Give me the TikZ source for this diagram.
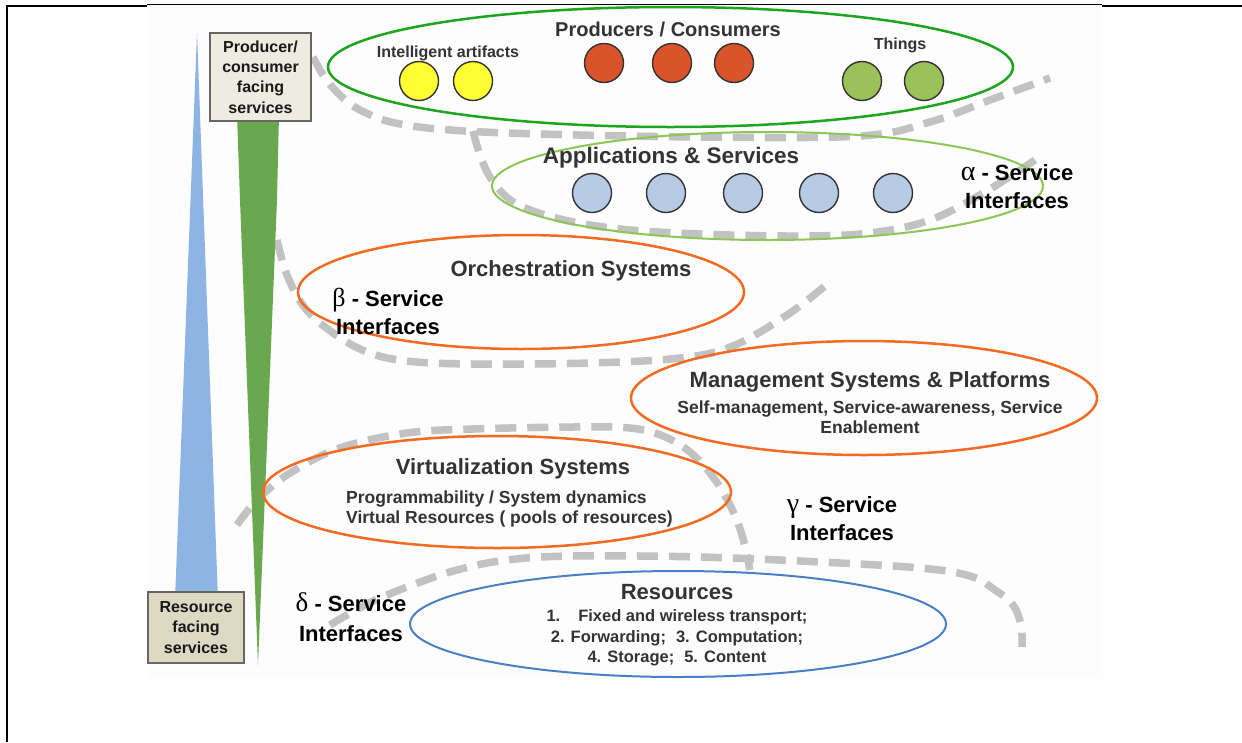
\documentclass[tikz,border=0pt]{standalone}
\usepackage{fontspec}
\setmainfont{Liberation Sans}
\newfontfamily\grk{Liberation Serif}
\usetikzlibrary{shapes.geometric}
\definecolor{dashgray}{HTML}{C2C2C2}
\definecolor{prodgreen}{HTML}{1DA51D}
\definecolor{appgreen}{HTML}{8DC653}
\definecolor{orangeline}{HTML}{F26B21}
\definecolor{resblue}{HTML}{4A7EC6}
\definecolor{dotyellow}{HTML}{FFFF33}
\definecolor{dotred}{HTML}{D9532B}
\definecolor{dotgreen}{HTML}{9BC258}
\definecolor{dotblue}{HTML}{B7CCE4}
\definecolor{wedgeblue}{HTML}{8EB4E3}
\definecolor{wedgegreen}{HTML}{6AA84F}
\definecolor{boxlight}{HTML}{EEECE1}
\definecolor{boxdark}{HTML}{DDD9C3}
\definecolor{txt}{HTML}{333333}
\begin{document}
\begin{tikzpicture}[x=1pt,y=-1pt,
  dashline/.style={draw=dashgray, line width=7.5pt, dash pattern=on 21pt off 11pt},
  oval/.style={ellipse, draw=#1, inner sep=0pt, line width=2.5pt},
  dot/.style={circle, draw=black!80, fill=#1, line width=1.4pt, minimum size=39pt, inner sep=0pt},
  title/.style={font=\fontsize{22}{28}\selectfont\bfseries, text=txt, inner sep=0pt, align=center},
  subtext/.style={font=\fontsize{17.5}{20.5}\selectfont\bfseries, text=txt, inner sep=0pt},
  small/.style={font=\fontsize{16}{20}\selectfont\bfseries, text=txt, inner sep=0pt},
  greeklbl/.style={font=\fontsize{22}{28}\selectfont\bfseries, text=black, inner sep=0pt, align=center},
  sidebox/.style={draw=black!60, line width=1.5pt, inner sep=0pt, align=center,
    font=\fontsize{16}{20.3}\selectfont\bfseries, text=black!90}
]
\useasboundingbox (0,0) rectangle (1242,742);
% image background
\fill[white!99.4!black] (148,5) rectangle (1102,678);
% frame
\draw[line width=2pt] (7,742) -- (7,6) -- (147,6);
\draw[line width=1pt] (147,4.5) -- (1102,4.5);
\draw[line width=2pt] (1102,5.5) -- (1242,5.5);

% dashed boundaries
\draw[dashline] plot[smooth, tension=0.6] coordinates {(313,57) (325,78) (342,97) (362,111) (395,123) (450,130) (540,134) (700,137) (860,136) (930,122) (990,100) (1050,78)};
\draw[dashline] plot[smooth, tension=0.6] coordinates {(473,131) (480,155) (492,180) (515,203) (560,219) (620,229) (700,234) (800,236) (870,233) (930,220) (985,192) (1035,160)};
\draw[dashline] plot[smooth, tension=0.6] coordinates {(277,240) (287,275) (305,308) (333,333) (367,352) (407,361) (473,364) (590,363) (680,358) (733,346) (790,313) (832,280)};
\draw[dashline] plot[smooth, tension=0.6] coordinates {(237,525) (257,500) (290,473) (340,448) (407,433) (473,429) (573,427) (630,428) (663,436) (690,452) (713,477) (730,505) (742,535) (750,570)};
\draw[dashline] plot[smooth, tension=0.6] coordinates {(330,625) (365,605) (407,587) (457,570) (507,560) (573,556) (700,557) (820,562) (920,568) (970,576) (995,590) (1013,605) (1021,625) (1022,647)};

% wedges
\fill[wedgeblue] (197,33) -- (218,600) -- (175,600) -- cycle;
\fill[wedgegreen] (237,115) -- (279,115) -- (277,200) -- (258,665) -- (240,200) -- cycle;

% side boxes
\node[sidebox, fill=boxlight, minimum width=101pt, minimum height=88pt] (top) at (260.5,77) {Producer/\\consumer\\facing\\services};
\node[sidebox, fill=boxdark, minimum width=96pt, minimum height=71pt] (bot) at (196,627.5) {Resource\\facing\\services};

% ellipses
\node[oval=prodgreen, minimum width=685pt, minimum height=120pt] (prod) at (670.5,67) {};
\node[oval=appgreen, line width=2pt, minimum width=551pt, minimum height=108pt] (apps) at (767.5,186) {};
\node[oval=orangeline, minimum width=446pt, minimum height=114pt] (orch) at (521,292) {};
\node[oval=orangeline, minimum width=466pt, minimum height=114pt] (mgmt) at (864,398) {};
\node[oval=orangeline, minimum width=468pt, minimum height=112pt] (virt) at (497,492) {};
\node[oval=resblue, line width=2pt, minimum width=536pt, minimum height=106pt] (res) at (678,624) {};

% circles
\node[dot=dotyellow] (y1) at (419,81) {};
\node[dot=dotyellow] (y2) at (473,81) {};
\node[dot=dotred] (r1) at (604,63) {};
\node[dot=dotred] (r2) at (672,63) {};
\node[dot=dotred] (r3) at (734,63) {};
\node[dot=dotgreen] (g1) at (862,81) {};
\node[dot=dotgreen] (g2) at (924,81) {};
\node[dot=dotblue] (b1) at (592,193) {};
\node[dot=dotblue] (b2) at (666,193) {};
\node[dot=dotblue] (b3) at (743,193) {};
\node[dot=dotblue] (b4) at (819,193) {};
\node[dot=dotblue] (b5) at (893,193) {};

% texts
\node[font=\fontsize{20}{24}\selectfont\bfseries, text=txt, inner sep=0pt] (prodt) at (668,29) {Producers / Consumers};
\node[small] (iat) at (448,53) {Intelligent artifacts};
\node[small] (tht) at (900,45) {Things};
\node[title, font=\fontsize{22.5}{28}\selectfont\bfseries] (appt) at (671,158) {Applications \& Services};
\node[greeklbl] (alpha) at (1017,187) {{\grk\mdseries\fontsize{28}{28}\selectfont α} - Service\\Interfaces};
\node[title] (orcht) at (571,271) {Orchestration Systems};
\node[greeklbl] (beta) at (388,311) {{\grk\mdseries\fontsize{26}{28}\selectfont β} - Service\\Interfaces};
\node[title] (mgmtt) at (870,382) {Management Systems \& Platforms};
\node[subtext, align=center] (mgmts) at (870,417) {Self-management, Service-awareness, Service\\Enablement};
\node[title] (virtt) at (513,469) {Virtualization Systems};
\node[subtext, align=left, anchor=west] (virts) at (346,509) {Programmability / System dynamics\\Virtual Resources ( pools of resources)};
\node[greeklbl] (gamma) at (842,519) {{\grk\mdseries\fontsize{28}{28}\selectfont γ} - Service\\Interfaces};
\node[title] (rest) at (677,592) {Resources};
\node[subtext, font=\fontsize{16.5}{20.5}\selectfont\bfseries, align=center] (ress) at (677,638) {1.\hspace{18pt}Fixed and wireless transport;\\2. Forwarding;\hspace{10pt}3. Computation;\\4. Storage;\hspace{10pt}5. Content};
\node[greeklbl, font=\fontsize{22}{30}\selectfont\bfseries] (delta) at (351,617) {{\grk\mdseries\fontsize{27}{28}\selectfont δ} - Service\\Interfaces};
\end{tikzpicture}
\end{document}
